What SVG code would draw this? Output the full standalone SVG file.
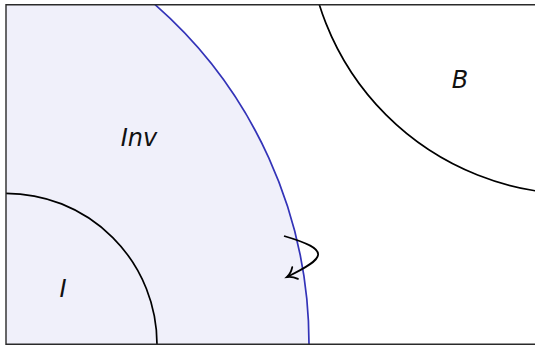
<svg xmlns="http://www.w3.org/2000/svg" width="535" height="346" viewBox="0 0 535 346">
<style>
.lbl{font-family:"DejaVu Sans",sans-serif;font-style:italic;font-size:24px;fill:#111;text-anchor:middle}
.arc{fill:none;stroke:#000;stroke-width:1.7}
</style>
<defs>
<marker id="to" markerWidth="16" markerHeight="16" refX="12" refY="8" orient="auto" markerUnits="userSpaceOnUse">
<path d="M3,1.5 Q7,6.5 12,8 Q7,9.5 3,14.5" fill="none" stroke="#000" stroke-width="1.8" stroke-linecap="round"/>
</marker>
<clipPath id="frame"><rect x="6" y="4.7" width="540" height="339.6"/></clipPath>
</defs>
<rect width="535" height="346" fill="#fff"/>
<g id="Inv">
<path d="M6,4.7 L155.1,4.7 A451,451 0 0 1 309,344.3 L6,344.3 Z" fill="#f0f0fa"/>
<path d="M155.1,4.7 A451,451 0 0 1 309,344.3" fill="none" stroke="#3333b8" stroke-width="1.7"/>
<text class="lbl" x="139" y="146">Inv</text>
</g>
<g id="I">
<path class="arc" d="M6,193.3 A151,151 0 0 1 157,344.3"/>
<text class="lbl" x="63" y="297">I</text>
</g>
<g id="B">
<g clip-path="url(#frame)">
<circle class="arc" cx="577" cy="-76" r="270"/>
</g>
<text class="lbl" x="460" y="88">B</text>
</g>
<g id="connectors">
<path d="M284,236 C332,250 326,258 287,277" fill="none" stroke="#000" stroke-width="1.8" marker-end="url(#to)"/>
</g>
<g id="frame-border">
<path d="M540,4.7 L6,4.7 L6,344.3 L540,344.3" fill="none" stroke="#2a2a2a" stroke-width="1.4"/>
</g>
</svg>
